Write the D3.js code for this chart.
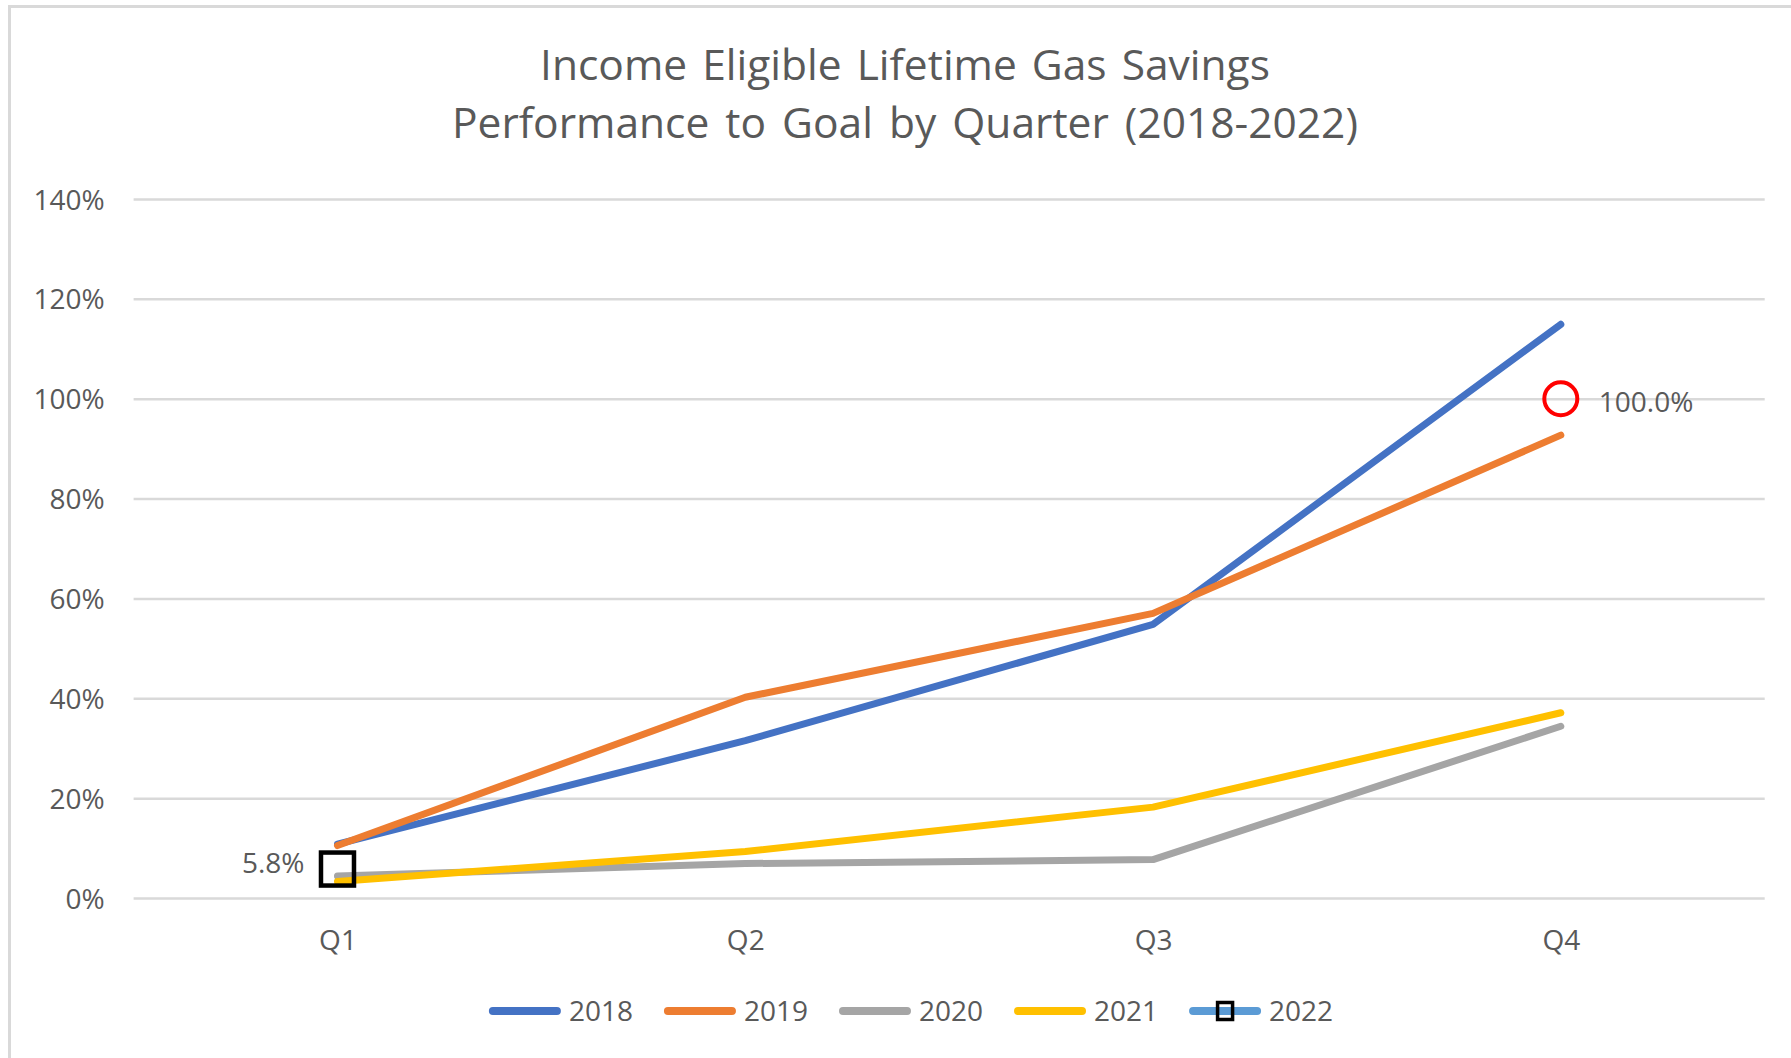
<!DOCTYPE html>
<html>
<head>
<meta charset="utf-8">
<script src="https://cdn.jsdelivr.net/npm/d3@7"></script>
<style>
  html, body { margin: 0; padding: 0; background: #ffffff; }
  svg { display: block; font-family: "Open Sans", "Noto Sans", sans-serif; }
</style>
</head>
<body>
<svg id="chart" width="1791" height="1058"></svg>
<script>
// Quarterly categories and cumulative performance to goal (fraction of goal)
const quarters = ["Q1", "Q2", "Q3", "Q4"];
const years = ["2018", "2019", "2020", "2021", "2022"];
const values2018 = [0.108, 0.315, 0.548, 1.149];
const values2019 = [0.105, 0.402, 0.570, 0.927];
const values2020 = [0.044, 0.069, 0.077, 0.344];
const values2021 = [0.033, 0.093, 0.182, 0.371];
const values2022 = [0.058, null, null, null];
// Year-end goal marker
const goalQuarter = "Q4";
const goalValue = 1.0;
const yTicks = [0, 0.2, 0.4, 0.6, 0.8, 1.0, 1.2, 1.4];
const titleLines = ["Income Eligible Lifetime Gas Savings", "Performance to Goal by Quarter (2018-2022)"];

const seriesColors = ["#4472C4", "#ED7D31", "#A5A5A5", "#FFC000", "#5B9BD5"];
const seriesValues = [values2018, values2019, values2020, values2021, values2022];

const svg = d3.select("#chart");
const textColor = "#595959";
const gridColor = "#D9D9D9";

// Chart area border
svg.append("rect")
  .attr("x", 9.5).attr("y", 6.5)
  .attr("width", 1800).attr("height", 1070)
  .attr("fill", "#ffffff")
  .attr("stroke", gridColor).attr("stroke-width", 3);

// Title
svg.append("g").selectAll("text")
  .data(titleLines)
  .join("text")
  .attr("x", 905)
  .attr("y", (d, i) => 80 + i * 58)
  .attr("text-anchor", "middle")
  .attr("fill", textColor)
  .attr("font-size", 42.5)
  .attr("word-spacing", (d, i) => i === 0 ? 4 : 5)
  .text(d => d);

const plotLeft = 133.6, plotRight = 1764.7, plotTop = 199, plotBottom = 898;

const x = d3.scalePoint().domain(quarters).range([plotLeft, plotRight]).padding(0.5);
const y = d3.scaleLinear().domain([0, 1.4]).range([plotBottom, plotTop]);

// Y axis with gridlines
const yAxis = d3.axisLeft(y)
  .tickValues(yTicks)
  .tickFormat(d3.format(".0%"))
  .tickSize(-(plotRight - plotLeft))
  .tickPadding(29);

const yg = svg.append("g").attr("transform", `translate(${plotLeft},0)`).call(yAxis);
yg.select(".domain").remove();
yg.selectAll(".tick line").attr("stroke", gridColor).attr("stroke-width", 2.5);
yg.selectAll(".tick text")
  .attr("fill", textColor)
  .attr("font-size", 28)
  .attr("font-family", "'Open Sans', 'Noto Sans', sans-serif")
  .attr("dy", "0.36em");

// X axis labels
const xAxis = d3.axisBottom(x).tickSize(0).tickPadding(32);
const xg = svg.append("g").attr("transform", `translate(0,${plotBottom})`).call(xAxis);
xg.select(".domain").remove();
xg.selectAll(".tick text")
  .attr("fill", textColor)
  .attr("font-size", 28)
  .attr("font-family", "'Open Sans', 'Noto Sans', sans-serif");

// Series lines (a series with a single point gets only its marker)
const line = d3.line()
  .defined(d => d.v !== null)
  .x(d => x(d.q))
  .y(d => y(d.v));

const linesG = svg.append("g");
seriesValues.forEach((vals, i) => {
  const pts = vals.map((v, j) => ({ q: quarters[j], v: v }));
  if (pts.filter(d => d.v !== null).length < 2) return;
  linesG.append("path")
    .datum(pts)
    .attr("d", line)
    .attr("fill", "none")
    .attr("stroke", seriesColors[i])
    .attr("stroke-width", 7)
    .attr("stroke-linecap", "round")
    .attr("stroke-linejoin", "round");
});

// 2022 square marker and its label
const markerSize = 33;
const pts2022 = values2022.map((v, j) => ({ q: quarters[j], v: v })).filter(d => d.v !== null);
svg.append("g").selectAll("rect")
  .data(pts2022)
  .join("rect")
  .attr("x", d => x(d.q) - markerSize / 2)
  .attr("y", d => y(d.v) - markerSize / 2)
  .attr("width", markerSize).attr("height", markerSize)
  .attr("fill", "none")
  .attr("stroke", "#000000")
  .attr("stroke-width", 4.5);

svg.append("g").selectAll("text")
  .data(pts2022)
  .join("text")
  .attr("x", d => x(d.q) - 33)
  .attr("y", d => y(d.v) - 6)
  .attr("dy", "0.36em")
  .attr("text-anchor", "end")
  .attr("fill", textColor)
  .attr("font-size", 28)
  .text(d => d3.format(".1%")(d.v));

// Goal marker
svg.append("circle")
  .attr("cx", x(goalQuarter))
  .attr("cy", y(goalValue))
  .attr("r", 16.5)
  .attr("fill", "none")
  .attr("stroke", "#FF0000")
  .attr("stroke-width", 4);

svg.append("text")
  .attr("x", x(goalQuarter) + 38)
  .attr("y", y(goalValue) + 3.5)
  .attr("dy", "0.36em")
  .attr("fill", textColor)
  .attr("font-size", 28)
  .text(d3.format(".1%")(goalValue));

// Legend
const legendY = 1011;
const lineLen = 64;
const textGap = 80;
const itemGap = 31;
const legend = svg.append("g");
let cursor = 0;
years.forEach((yr, i) => {
  const g = legend.append("g").attr("transform", `translate(${cursor},0)`);
  g.append("line")
    .attr("x1", 4).attr("x2", 4 + lineLen)
    .attr("y1", 0).attr("y2", 0)
    .attr("stroke", seriesColors[i])
    .attr("stroke-width", 8)
    .attr("stroke-linecap", "round");
  if (yr === "2022") {
    g.append("rect")
      .attr("x", 4 + lineLen / 2 - 7.5).attr("y", -8.5)
      .attr("width", 15).attr("height", 17)
      .attr("fill", "none")
      .attr("stroke", "#000000")
      .attr("stroke-width", 3.5);
  }
  const t = g.append("text")
    .attr("x", textGap)
    .attr("y", 0)
    .attr("dy", "0.36em")
    .attr("fill", textColor)
    .attr("font-size", 28)
    .text(yr);
  const w = textGap + t.node().getComputedTextLength();
  cursor += w + itemGap;
});
const legendWidth = cursor - itemGap;
legend.attr("transform", `translate(${911 - legendWidth / 2},${legendY})`);
</script>
</body>
</html>
